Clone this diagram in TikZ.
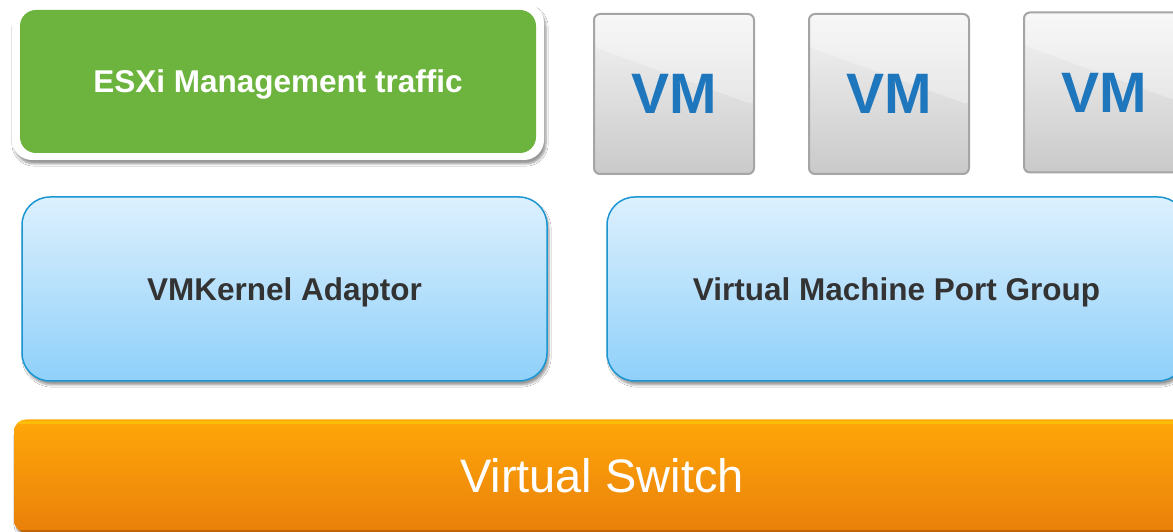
\documentclass[tikz,border=0pt]{standalone}
\usepackage{fontspec}
\setmainfont{Liberation Sans}
\usetikzlibrary{shadows.blur}

\definecolor{esxigreen}{RGB}{109,180,63}
\definecolor{vmblue}{RGB}{30,118,188}
\definecolor{vmborder}{RGB}{165,165,167}
\definecolor{portborder}{RGB}{27,150,211}
\definecolor{porttop}{RGB}{221,240,253}
\definecolor{portbottom}{RGB}{143,208,250}
\definecolor{labelgray}{RGB}{51,51,51}
\definecolor{switchtop}{RGB}{255,167,9}
\definecolor{switchbottom}{RGB}{233,128,10}

\tikzset{
  softshadow/.style={blur shadow={shadow xshift=2pt, shadow yshift=-4pt, shadow blur steps=6, shadow opacity=40}},
  esxiframe/.style={fill=white, rounded corners=20pt, minimum width=532pt, minimum height=157pt, softshadow},
  esxibox/.style={fill=esxigreen, rounded corners=16pt, minimum width=516pt, minimum height=143pt,
    text=white, text depth=0pt, font=\fontsize{31.5}{36}\selectfont\bfseries},
  vmbox/.style={draw=vmborder, line width=2pt, rounded corners=6pt, top color=gray!8, bottom color=gray!42,
    minimum width=160pt, minimum height=160pt, text=vmblue, font=\fontsize{57}{62}\selectfont\bfseries,
    path picture={\fill[white, opacity=.3] (path picture bounding box.north west)
      -- ([yshift=-33pt]path picture bounding box.north west)
      -- ([yshift=-91pt]path picture bounding box.north east)
      -- (path picture bounding box.north east) -- cycle;}},
  portbox/.style={draw=portborder, line width=1.5pt, rounded corners=28pt, top color=porttop, bottom color=portbottom,
    minimum height=184pt, text=labelgray, text depth=0pt, font=\fontsize{31.5}{36}\selectfont\bfseries, softshadow},
  switchbar/.style={rounded corners=12pt, top color=switchtop, bottom color=switchbottom,
    minimum width=1176pt, minimum height=113pt, text=white, font=\fontsize{47}{52}\selectfont,
    path picture={
      \draw[yellow!60!orange, line width=3pt, opacity=.7] ([yshift=-3pt]path picture bounding box.north west) -- ([yshift=-3pt]path picture bounding box.north east);
      \draw[orange!60!black, line width=3pt, opacity=.5] ([yshift=1pt]path picture bounding box.south west) -- ([yshift=1pt]path picture bounding box.south east);},
    softshadow}
}

\begin{document}
\begin{tikzpicture}[x=1pt,y=1pt]
    \useasboundingbox[fill=white] (0,0) rectangle (1173,532);

    % Trafic de gestion ESXi
    \node[esxiframe] (frame) at (278,450.5) {};
    \node[esxibox] (esxi) at (frame.center) {ESXi Management traffic};

    % Machines virtuelles
    \node[vmbox] (vm1) at (674,438) {VM};
    \node[vmbox] (vm2) at (889,438) {VM};
    \node[vmbox] (vm3) at (1104,439.5) {VM};

    % Adaptateur VMkernel et groupe de ports
    \node[portbox, minimum width=525pt] (vmk) at (284.5,243) {VMKernel Adaptor};
    \node[portbox, minimum width=579pt] (portgroup) at (896.5,243) {Virtual Machine Port Group};

    % Commutateur virtuel
    \node[switchbar] (vswitch) at (602,56) {Virtual Switch};

\end{tikzpicture}
\end{document}
